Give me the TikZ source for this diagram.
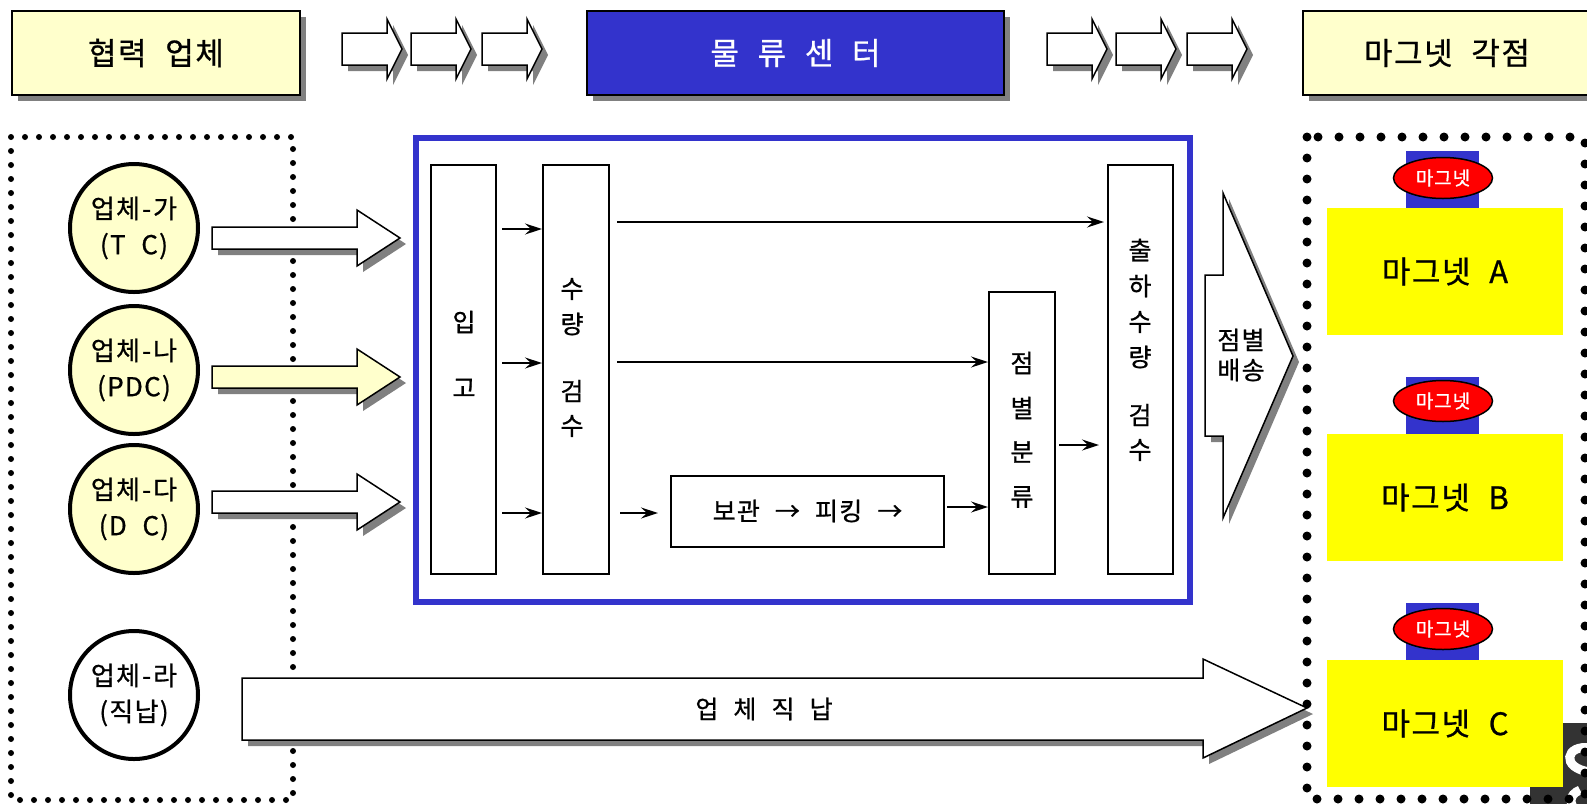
\documentclass[tikz,border=0pt]{standalone}
\usepackage{fontspec}
\setmainfont{Noto Sans CJK KR}[WordSpace=2.2, LetterSpace=5, RawFeature={embolden=0.8}]
\usetikzlibrary{arrows.meta,shapes.geometric}
\definecolor{lyel}{HTML}{FFFFCC}
\definecolor{cblue}{HTML}{3333CC}
\definecolor{shgray}{HTML}{808080}
\definecolor{magyel}{HTML}{FFFF00}
\definecolor{logodark}{HTML}{333333}
\newcommand\kfs[2]{\fontsize{#1}{#2}\selectfont}
\newcommand\kdash{\kern2pt-\kern2pt}
\tikzset{
  shadowed/.style={preaction={fill=shgray, transform canvas={shift={(6pt,-6pt)}}}},
  hdrbox/.style={draw=black, line width=1.5pt, minimum width=288pt, minimum height=84pt, inner sep=0pt, shadowed, font=\kfs{31}{34}},
  blockarr/.style={draw=black, line width=1.5pt, fill=white, shadowed},
  circ/.style={circle, draw=black, line width=4pt, minimum size=128pt, inner sep=0pt, align=center, font=\kfs{26}{36}},
  ibox/.style={draw=black, line width=2pt, inner sep=0pt},
  ktext/.style={font=\kfs{25}{30}, inner sep=0pt, align=center},
  conn/.style={line width=1.8pt, -{Stealth[length=17pt,width=11pt,inset=6pt]}},
  magbox/.style={fill=magyel, minimum width=236pt, minimum height=127pt, inner sep=0pt, font=\kfs{31}{34}},
  magtab/.style={fill=cblue, minimum width=73pt, minimum height=57pt, inner sep=0pt},
  magell/.style={ellipse, draw=black, line width=1.5pt, fill=red, text=white, minimum width=99pt, minimum height=41pt, inner sep=0pt, font=\kfs{19}{22}},
  dotsA/.style={line width=6pt, line cap=round, dash pattern=on 0pt off 14pt},
  dotsB/.style={line width=9pt, line cap=round, dash pattern=on 0pt off 21pt}
}
\newcommand\toparrow[1]{\filldraw[blockarr] (#1,33) -- ({#1+45},33) -- ({#1+45},19) -- ({#1+60},49) -- ({#1+45},79) -- ({#1+45},65) -- (#1,65) -- cycle;}
\newcommand\sidearrow[2]{\filldraw[blockarr, fill=#2] (212,{#1-11}) -- (357,{#1-11}) -- (357,{#1-28}) -- (400,#1) -- (357,{#1+28}) -- (357,{#1+11}) -- (212,{#1+11}) -- cycle;}
\begin{document}
\begin{tikzpicture}[x=1pt,y=-1pt]
\clip (0,0) rectangle (1587,804);
\fill[white] (0,0) rectangle (1587,804);

% logo fragment
\fill[logodark] (1530,723) rectangle (1587,804);
\draw[white, line width=9pt] (1590,748) .. controls (1566,744) and (1560,768) .. (1590,772);
\draw[white, line width=9pt] (1580,790) .. controls (1568,795) and (1570,804) .. (1575,810);

% dotted group frames
\draw[dotsA] (11,137) rectangle (293,800);
\draw[dotsB] (1307,137) rectangle (1585,799);

% headers
\node[hdrbox, fill=lyel] (h1) at (156,53) {협력 업체};
\node[hdrbox, fill=cblue, text=white, minimum width=417pt] (h2) at (795.5,53) {물 류 센 터};
\node[hdrbox, fill=lyel] (h3) at (1447,53) {마그넷 각점};

\toparrow{342}\toparrow{411}\toparrow{482}
\toparrow{1047}\toparrow{1116}\toparrow{1187}

% suppliers
\node[circ, fill=lyel] (ga) at (134,228) {업체\kdash 가\\(T C)};
\node[circ, fill=lyel] (na) at (134,370) {업체\kdash 나\\(PDC)};
\node[circ, fill=lyel] (da) at (134,509) {업체\kdash 다\\(D C)};
\node[circ, fill=white] (ra) at (134,695) {업체\kdash 라\\(직납)};

\sidearrow{238}{white}
\sidearrow{377}{lyel}
\sidearrow{502}{white}

% logistics center frame
\node[draw=cblue, line width=6pt, minimum width=774pt, minimum height=464pt, inner sep=0pt] (center) at (803,370) {};

\node[ibox, minimum width=65pt, minimum height=409pt] (ipgo) at (463.5,369.5) {};
\node[ibox, minimum width=66pt, minimum height=409pt] (suryang) at (576,369.5) {};
\node[ibox, minimum width=66pt, minimum height=282pt] (jeom) at (1022,433) {};
\node[ibox, minimum width=65pt, minimum height=409pt] (chulha) at (1140.5,369.5) {};
\node[ibox, minimum width=273pt, minimum height=71pt, font=\kfs{25}{30}] (bogwan) at (807.5,511) {보관 → 피킹 →};

\foreach \yy/\cc in {322/입,388/고} \node[ktext] at (464,\yy) {\cc};
\foreach \yy/\cc in {289/수,324/량,391/검,426/수} \node[ktext] at (572,\yy) {\cc};
\foreach \yy/\cc in {363/점,408/별,452/분,497/류} \node[ktext] at (1022,\yy) {\cc};
\foreach \yy/\cc in {250/출,286/하,322/수,357/량,415/검,450/수} \node[ktext] at (1140,\yy) {\cc};

% internal flows
\draw[conn] (ipgo.east |- 0,229) ++(5,0) -- (suryang.west |- 0,229);
\draw[conn] (ipgo.east |- 0,363) ++(5,0) -- (suryang.west |- 0,363);
\draw[conn] (ipgo.east |- 0,513) ++(5,0) -- (suryang.west |- 0,513);
\draw[conn] (suryang.east |- 0,222) ++(7,0) -- ([xshift=-3pt]chulha.west |- 0,222);
\draw[conn] (suryang.east |- 0,362) ++(7,0) -- (jeom.west |- 0,362);
\draw[conn] (suryang.east |- 0,513) ++(10,0) -- ([xshift=-12pt]bogwan.west |- 0,513);
\draw[conn] (bogwan.east |- 0,507) ++(2,0) -- (jeom.west |- 0,507);
\draw[conn] (jeom.east |- 0,445) ++(3,0) -- ([xshift=-8pt]chulha.west |- 0,445);

% delivery arrow
\filldraw[blockarr] (1205,275) -- (1223,275) -- (1223,193) -- (1293,356) -- (1223,518) -- (1223,436) -- (1205,436) -- cycle;
\node[ktext] (deliv) at (1241,355) {점별\\배송};

% direct delivery arrow
\filldraw[blockarr] (242,678) -- (1203,678) -- (1203,659) -- (1307,708) -- (1203,758) -- (1203,740) -- (242,740) -- cycle;
\node[ktext] (direct) at (764,709) {업 체 직 납};

% magnet stores
\node[magtab] (tabA) at (1442.5,179.5) {};
\node[magtab] (tabB) at (1442.5,405.5) {};
\node[magtab] (tabC) at (1442.5,631.5) {};
\node[magbox] (magA) at (1445,271.5) {마그넷 A};
\node[magbox] (magB) at (1445,497.5) {마그넷 B};
\node[magbox] (magC) at (1445,723.5) {마그넷 C};
\node[magell] (ellA) at (1443,178) {마그넷};
\node[magell] (ellB) at (1443,401) {마그넷};
\node[magell] (ellC) at (1443,629) {마그넷};
\end{tikzpicture}
\end{document}
